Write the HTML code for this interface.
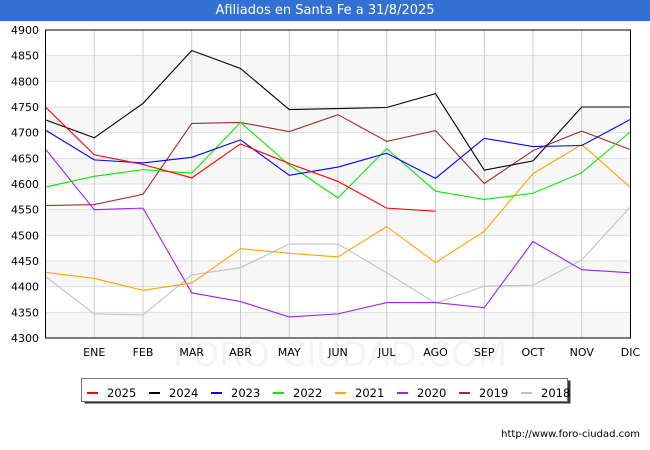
<!DOCTYPE html>
<html><head><meta charset="utf-8"><style>
body{margin:0;width:650px;height:450px;background:#fff;overflow:hidden;font-family:"DejaVu Sans","Liberation Sans",sans-serif;}
#title{position:absolute;left:0;top:0;width:650px;height:21px;background:#3370d4;color:#fff;font-size:13px;text-align:center;line-height:22px;}
</style></head><body>
<div id="title">Afiliados en Santa Fe a 31/8/2025</div>
<svg id="chart" width="650" height="450" style="position:absolute;left:0;top:0"></svg>
<script>
const months = ["", "ENE","FEB","MAR","ABR","MAY","JUN","JUL","AGO","SEP","OCT","NOV","DIC"];
const yTicks = [4300,4350,4400,4450,4500,4550,4600,4650,4700,4750,4800,4850,4900];
const seriesNames = ["2025","2024","2023","2022","2021","2020","2019","2018"];
const seriesColors = ["#ff0000","#000000","#0000ff","#00ee00","#ffa500","#a020f0","#a52a2a","#c0c0c0"];
const s2025 = [4750,4657,4638,4612,4678,4640,4605,4553,4547];
const s2024 = [4725,4690,4757,4860,4825,4745,4747,4749,4776,4627,4645,4750,4750];
const s2023 = [4705,4647,4641,4652,4686,4617,4633,4660,4611,4689,4673,4675,4726];
const s2022 = [4594,4615,4628,4621,4720,4637,4573,4669,4586,4570,4582,4622,4702];
const s2021 = [4428,4416,4393,4407,4474,4465,4458,4517,4447,4508,4620,4677,4593];
const s2020 = [4668,4550,4553,4388,4371,4341,4347,4369,4369,4359,4488,4433,4427];
const s2019 = [4558,4560,4580,4718,4720,4702,4735,4683,4704,4601,4665,4703,4667];
const s2018 = [4420,4347,4345,4423,4437,4483,4483,4427,4368,4401,4403,4452,4556];
const allSeries = [s2025,s2024,s2023,s2022,s2021,s2020,s2019,s2018];

const NS="http://www.w3.org/2000/svg";
const svg=document.getElementById('chart');
const L=45.5,R=630.5,T=30,B=338,yMin=4300,yMax=4900;
const xs=i=>L+i*(R-L)/(months.length-1);
const ys=v=>B-(v-yMin)/(yMax-yMin)*(B-T);
function mk(tag,a){const e=document.createElementNS(NS,tag);for(const k in a)e.setAttribute(k,a[k]);svg.appendChild(e);return e;}
for(let i=0;i<yTicks.length-1;i++){
  if(i%2==0){const r=mk('rect',{x:L,y:ys(yTicks[i+1]),width:R-L,height:ys(yTicks[i])-ys(yTicks[i+1]),fill:'#f7f7f7'});
  
  }
}
const wm=mk('text',{x:340,y:366,'text-anchor':'middle','font-size':34,fill:'#f3f4f9'});
wm.textContent='FORO-CIUDAD.COM';


yTicks.forEach(v=>{
  const l=mk('line',{x1:L,x2:R,y1:ys(v),y2:ys(v),stroke:'#dddddd','stroke-width':1});
  
  
  const t=mk('text',{x:39,y:ys(v)+4,'text-anchor':'end','font-size':11,fill:'#000'});
  t.textContent=v;
  
  
});
months.forEach((m,i)=>{
  if(i>0){const l=mk('line',{x1:xs(i),x2:xs(i),y1:T,y2:B,stroke:'#cccccc','stroke-width':1});
  
  
  const t=mk('text',{x:xs(i),y:356,'text-anchor':'middle','font-size':11,fill:'#000'});
  t.textContent=m;
  
  }
});
for(let s=allSeries.length-1;s>=0;s--){
  const pts=allSeries[s].map((v,i)=>xs(i)+','+ys(v)).join(' ');
  const p=mk('polyline',{points:pts,fill:'none',stroke:seriesColors[s],'stroke-width':1.1});
  
  
}
const fr=mk('rect',{x:L,y:T,width:R-L,height:B-T,fill:'none',stroke:'#000','stroke-width':1});


const sh=mk('rect',{x:84.5,y:380.5,width:486,height:23,fill:'#333'});


const lb=mk('rect',{x:81.5,y:378.5,width:486,height:23,fill:'#fff',stroke:'#777','stroke-width':1});


seriesNames.forEach((n,i)=>{
  const x0=87+i*62;
  const sw=mk('rect',{x:x0,y:392,width:11,height:2,fill:seriesColors[i]});
  
  
  const t=mk('text',{x:x0+20,y:397,'font-size':11.5,fill:'#000'});
  t.textContent=n;
  
  
});
const u=mk('text',{x:640,y:437,'text-anchor':'end','font-size':10,fill:'#000'});
u.textContent='http://www.foro-ciudad.com';


</script>
</body></html>
